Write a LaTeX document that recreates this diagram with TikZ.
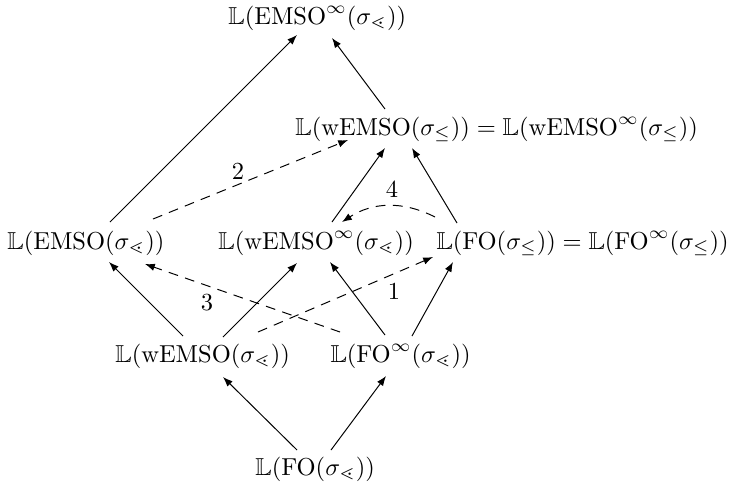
\documentclass[tikz,border=0pt]{standalone}
\usepackage{amssymb}
\usetikzlibrary{arrows.meta}
\begin{document}
\begin{tikzpicture}[x=0.408pt,y=-0.408pt,
  lbl/.style={inner sep=0pt,anchor=base west},
  num/.style={inner sep=0pt},
  imp/.style={-{Latex[length=4pt,width=3pt]},line width=0.4pt},
  dimp/.style={imp,dash pattern=on 4pt off 3pt}]
\useasboundingbox (0,0) rectangle (729,487);
\node[lbl] (top) at (228,24) {$\mathbb{L}(\mathrm{EMSO}^\infty(\sigma_\lessdot))$};
\node[lbl] (mid) at (295,135) {$\mathbb{L}(\mathrm{wEMSO}(\sigma_\leq))=\mathbb{L}(\mathrm{wEMSO}^\infty(\sigma_\leq))$};
\node[lbl] (L) at (7,249) {$\mathbb{L}(\mathrm{EMSO}(\sigma_\lessdot))$};
\node[lbl] (M) at (218,249) {$\mathbb{L}(\mathrm{wEMSO}^\infty(\sigma_\lessdot))$};
\node[lbl] (R) at (436,249) {$\mathbb{L}(\mathrm{FO}(\sigma_\leq))=\mathbb{L}(\mathrm{FO}^\infty(\sigma_\leq))$};
\node[lbl] (a) at (115,362) {$\mathbb{L}(\mathrm{wEMSO}(\sigma_\lessdot))$};
\node[lbl] (b) at (330,362) {$\mathbb{L}(\mathrm{FO}^\infty(\sigma_\lessdot))$};
\node[lbl] (bot) at (255,475) {$\mathbb{L}(\mathrm{FO}(\sigma_\lessdot))$};

\draw[imp] ([shift={(103,-27)}]L.base west) -- ([shift={(69,11)}]top.base west);
\draw[imp] ([shift={(90,-26)}]mid.base west) -- ([shift={(104,14)}]top.base west);
\draw[imp] ([shift={(114,-27)}]M.base west) -- ([shift={(90,13)}]mid.base west);
\draw[imp] ([shift={(21,-26)}]R.base west) -- ([shift={(117,13)}]mid.base west);
\draw[dimp] ([shift={(146,-30)}]L.base west) -- ([shift={(53,5)}]mid.base west);
\draw[dimp] ([shift={(-1,-32)}]R.base west) to[bend right=30] ([shift={(124,-27)}]M.base west);
\draw[imp] ([shift={(68,-26)}]a.base west) -- ([shift={(102,13)}]L.base west);
\draw[imp] ([shift={(108,-25)}]a.base west) -- ([shift={(79,14)}]M.base west);
\draw[imp] ([shift={(55,-27)}]b.base west) -- ([shift={(112,13)}]M.base west);
\draw[imp] ([shift={(82,-26)}]b.base west) -- ([shift={(17,13)}]R.base west);
\draw[dimp] ([shift={(10,-30)}]b.base west) -- ([shift={(138,15)}]L.base west);
\draw[dimp] ([shift={(143,-30)}]a.base west) -- ([shift={(-3,8)}]R.base west);
\draw[imp] ([shift={(42,-25)}]bot.base west) -- ([shift={(108,15)}]a.base west);
\draw[imp] ([shift={(76,-25)}]bot.base west) -- ([shift={(56,14)}]b.base west);
\node[num] (n2) at (238,172) {$2$};
\node[num] (n4) at (392,190) {$4$};
\node[num] (n3) at (207,303) {$3$};
\node[num] (n1) at (394,292) {$1$};
\end{tikzpicture}
\end{document}
